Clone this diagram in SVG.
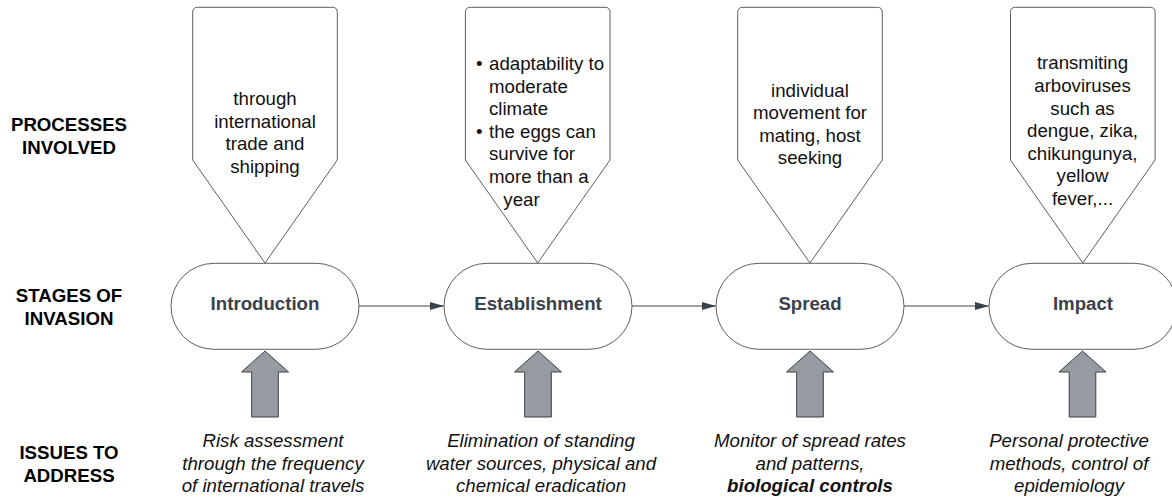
<svg xmlns="http://www.w3.org/2000/svg" width="1172" height="497" viewBox="0 0 1172 497">
<style>
text{font-family:"Liberation Sans",Arial,sans-serif;font-size:18.67px;fill:#111;}
.hdr{font-weight:bold;text-anchor:middle;fill:#000;}
.c{text-anchor:middle;}
.stage{font-weight:bold;text-anchor:middle;fill:#3a414a;}
.it{font-style:italic;text-anchor:middle;}
.shape{fill:#fff;stroke:#5e5e5e;stroke-width:1;}
.blk{fill:#979aa1;stroke:#3a414a;stroke-width:1;stroke-linejoin:round;}
.conn{stroke:#3a414a;stroke-width:1;fill:none;}
</style>
<defs>
<path id="pent" d="M -72.3,160 L -72.3,12.3 Q -72.3,7.3 -67.3,7.3 L 67.3,7.3 Q 72.3,7.3 72.3,12.3 L 72.3,160 L 0,263 Z"/>
<path id="blk" d="M 0,351 L 23.5,372 L 13.3,372 L 13.3,417 L -13.3,417 L -13.3,372 L -23.5,372 Z"/>
<marker id="ah" markerWidth="14" markerHeight="8" refX="14" refY="4" orient="auto" markerUnits="userSpaceOnUse">
<path d="M0,0 L14,4 L0,8 Z" fill="#3a414a"/>
</marker>
</defs>
<rect width="1172" height="497" fill="#fff"/>

<g id="row-labels">
<text class="hdr" x="69" y="131">PROCESSES</text>
<text class="hdr" x="69" y="154">INVOLVED</text>
<text class="hdr" x="69" y="302">STAGES OF</text>
<text class="hdr" x="69" y="324.5">INVASION</text>
<text class="hdr" x="69" y="459.3">ISSUES TO</text>
<text class="hdr" x="69" y="481.7">ADDRESS</text>
</g>

<g id="connectors">
<line class="conn" x1="359" y1="306" x2="444" y2="306" marker-end="url(#ah)"/>
<line class="conn" x1="632" y1="306" x2="716" y2="306" marker-end="url(#ah)"/>
<line class="conn" x1="904" y1="306" x2="989" y2="306" marker-end="url(#ah)"/>
</g>

<g id="process-1">
<use href="#pent" class="shape" transform="translate(265,0)"/>
<text class="c" x="265" y="105.3">through</text>
<text class="c" x="265" y="127.7">international</text>
<text class="c" x="265" y="150.1">trade and</text>
<text class="c" x="265" y="172.5">shipping</text>
</g>
<g id="process-2">
<use href="#pent" class="shape" transform="translate(537.7,0)"/>
<text x="476" y="70">•</text>
<text x="489" y="70">adaptability to</text>
<text x="489" y="92.5">moderate</text>
<text x="489" y="115">climate</text>
<text x="476" y="137.7">•</text>
<text x="489" y="137.7">the eggs can</text>
<text x="489" y="160.3">survive for</text>
<text x="489" y="183">more than a</text>
<text x="503.3" y="205.7">year</text>
</g>
<g id="process-3">
<use href="#pent" class="shape" transform="translate(810,0)"/>
<text class="c" x="810" y="96.7">individual</text>
<text class="c" x="810" y="119.1">movement for</text>
<text class="c" x="810" y="141.5">mating, host</text>
<text class="c" x="810" y="164">seeking</text>
</g>
<g id="process-4">
<use href="#pent" class="shape" transform="translate(1082.8,0)"/>
<text class="c" x="1082.5" y="69.3">transmiting</text>
<text class="c" x="1082.5" y="92">arboviruses</text>
<text class="c" x="1082.5" y="114.6">such as</text>
<text class="c" x="1082.5" y="137.2">dengue, zika,</text>
<text class="c" x="1082.5" y="159.8">chikungunya,</text>
<text class="c" x="1082.5" y="182.4">yellow</text>
<text class="c" x="1082.5" y="205">fever,...</text>
</g>

<g id="stage-introduction">
<rect class="shape" x="171" y="263.3" width="188" height="86" rx="43"/>
<text class="stage" x="265" y="310">Introduction</text>
</g>
<g id="stage-establishment">
<rect class="shape" x="444" y="263.3" width="188" height="86" rx="43"/>
<text class="stage" x="538" y="310">Establishment</text>
</g>
<g id="stage-spread">
<rect class="shape" x="716" y="263.3" width="188" height="86" rx="43"/>
<text class="stage" x="810" y="310">Spread</text>
</g>
<g id="stage-impact">
<rect class="shape" x="989" y="263.3" width="188" height="86" rx="43"/>
<text class="stage" x="1083" y="310">Impact</text>
</g>

<g id="issue-arrow-1"><use href="#blk" class="blk" transform="translate(265,0)"/></g>
<g id="issue-arrow-2"><use href="#blk" class="blk" transform="translate(538,0)"/></g>
<g id="issue-arrow-3"><use href="#blk" class="blk" transform="translate(810,0)"/></g>
<g id="issue-arrow-4"><use href="#blk" class="blk" transform="translate(1082.5,0)"/></g>

<g id="issue-1">
<text class="it" x="273" y="447.3">Risk assessment</text>
<text class="it" x="273" y="469.5">through the frequency</text>
<text class="it" x="273" y="491.7">of international travels</text>
</g>
<g id="issue-2">
<text class="it" x="541" y="447.3">Elimination of standing</text>
<text class="it" x="541" y="469.5">water sources, physical and</text>
<text class="it" x="541" y="491.7">chemical eradication</text>
</g>
<g id="issue-3">
<text class="it" x="810" y="447.3">Monitor of spread rates</text>
<text class="it" x="810" y="469.5">and patterns,</text>
<text class="it" x="810" y="491.7" font-weight="bold">biological controls</text>
</g>
<g id="issue-4">
<text class="it" x="1069" y="447.3">Personal protective</text>
<text class="it" x="1069" y="469.5">methods, control of</text>
<text class="it" x="1069" y="491.7">epidemiology</text>
</g>
</svg>
